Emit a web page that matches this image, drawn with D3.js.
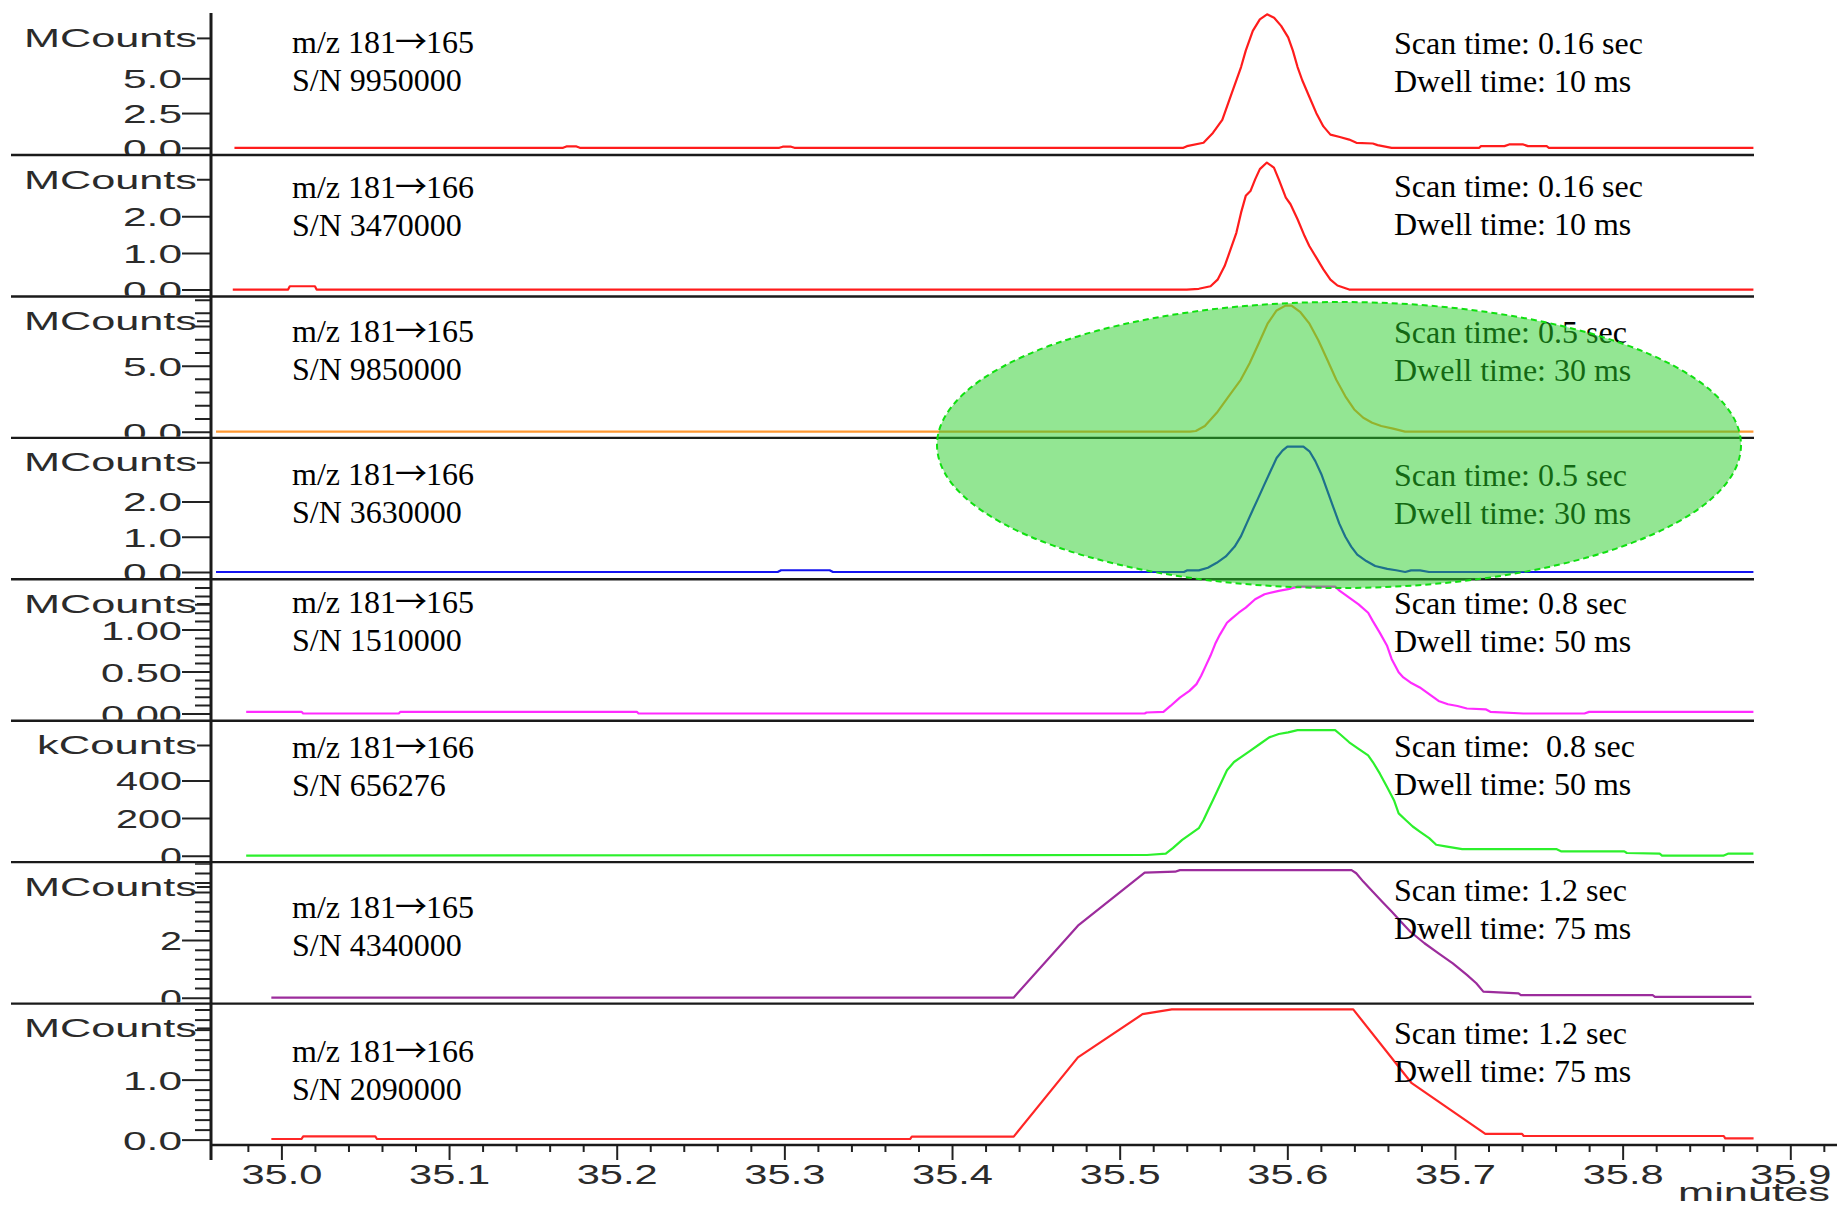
<!DOCTYPE html>
<html>
<head>
<meta charset="utf-8">
<script src="https://cdn.jsdelivr.net/npm/d3@7"></script>
<style>
  html, body { margin: 0; padding: 0; background: #fff; }
  svg { display: block; }
  .ann { font-family: "Liberation Serif", "Times New Roman", serif; font-size: 32px; fill: #000; white-space: pre; }
  .arrow { font-family: "Noto Sans CJK JP", "DejaVu Sans", sans-serif; }
  .axlbl { font-family: "Liberation Sans", Arial, sans-serif; fill: #2b2b2b; }
</style>
</head>
<body>
<svg id="chart" width="1837" height="1207"></svg>
<script>
// ---------------------------------------------------------------
// Chromatogram traces: [retention time (min), intensity]
// intensity in MCounts, except the 0.8 s m/z 181→166 trace (kCounts)
// ---------------------------------------------------------------
const trace165_016 = [
  [34.972, 0], [35.168, 0], [35.170, 0.1], [35.176, 0.1], [35.178, 0],
  [35.297, 0], [35.299, 0.08], [35.304, 0.08], [35.306, 0],
  [35.538, 0], [35.5401, 0.12], [35.5500, 0.36], [35.5556, 1.07], [35.5612, 2.01],
  [35.5668, 3.91], [35.5724, 5.81], [35.5752, 6.99], [35.5794, 8.41], [35.5836, 9.24],
  [35.5879, 9.6], [35.5921, 9.36], [35.5963, 8.77], [35.6005, 7.94], [35.6033, 6.99],
  [35.6061, 5.81], [35.6089, 4.86], [35.6131, 3.67], [35.6173, 2.49], [35.6215, 1.54],
  [35.6257, 0.95], [35.6313, 0.78], [35.6369, 0.59], [35.6412, 0.36], [35.6510, 0.31],
  [35.6538, 0.19], [35.6622, 0], [35.7145, 0], [35.7155, 0.12], [35.7295, 0.12],
  [35.7323, 0.24], [35.7407, 0.24], [35.7435, 0.12], [35.7547, 0.12], [35.7560, 0],
  [35.878, 0]
];
const trace166_016 = [
  [34.971, 0], [35.004, 0], [35.005, 0.09], [35.020, 0.09], [35.021, 0],
  [35.540, 0], [35.5472, 0.02], [35.5542, 0.09], [35.5584, 0.27], [35.5626, 0.64],
  [35.5654, 1.0], [35.5696, 1.55], [35.5724, 2.10], [35.5752, 2.56], [35.5780, 2.69],
  [35.5808, 3.01], [35.5836, 3.29], [35.5878, 3.47], [35.5920, 3.33], [35.5949, 3.01],
  [35.5991, 2.51], [35.6019, 2.33], [35.6061, 1.92], [35.6103, 1.46], [35.6131, 1.19],
  [35.6173, 0.87], [35.6215, 0.55], [35.6257, 0.27], [35.6299, 0.11], [35.6369, 0],
  [35.878, 0]
];
const trace165_05 = [
  [34.961, 0], [35.5420, 0], [35.5454, 0.05], [35.5508, 0.43], [35.5579, 1.43],
  [35.5650, 2.68], [35.5722, 3.93], [35.5775, 5.18], [35.5829, 6.68], [35.5882, 8.18],
  [35.5936, 9.18], [35.5989, 9.55], [35.6025, 9.55], [35.6078, 9.05], [35.6132, 8.18],
  [35.6185, 6.93], [35.6239, 5.43], [35.6292, 3.93], [35.6346, 2.68], [35.6399, 1.68],
  [35.6453, 1.05], [35.6506, 0.68], [35.6560, 0.43], [35.6631, 0.23], [35.6702, 0],
  [35.878, 0]
];
const trace166_05 = [
  [34.961, 0], [35.296, 0], [35.298, 0.05], [35.327, 0.05], [35.329, 0],
  [35.5383, 0], [35.5401, 0.045], [35.5472, 0.045], [35.5526, 0.12], [35.5579, 0.26],
  [35.5633, 0.44], [35.5686, 0.72], [35.5722, 1.0], [35.5757, 1.37], [35.5793, 1.75],
  [35.5829, 2.12], [35.5864, 2.49], [35.5900, 2.86], [35.5936, 3.23], [35.5971, 3.44],
  [35.6000, 3.55], [35.6096, 3.55], [35.6132, 3.42], [35.6167, 3.14], [35.6203, 2.77],
  [35.6239, 2.30], [35.6274, 1.84], [35.6310, 1.37], [35.6346, 1.0], [35.6381, 0.72],
  [35.6417, 0.49], [35.6471, 0.31], [35.6524, 0.17], [35.6596, 0.09], [35.6649, 0.05],
  [35.6703, 0], [35.6738, 0.045], [35.6792, 0.045], [35.6845, 0], [35.878, 0]
];
const trace165_08 = [
  [34.979, 0.02], [35.012, 0.02], [35.013, 0], [35.070, 0], [35.071, 0.02],
  [35.212, 0.02], [35.213, 0], [35.5149, 0], [35.5160, 0.012], [35.5261, 0.02],
  [35.5303, 0.09], [35.5359, 0.19], [35.5416, 0.27], [35.5458, 0.35], [35.5486, 0.45],
  [35.5514, 0.57], [35.5542, 0.69], [35.5570, 0.83], [35.5598, 0.94], [35.5640, 1.08],
  [35.5668, 1.13], [35.5710, 1.20], [35.5752, 1.26], [35.5808, 1.36], [35.5864, 1.42],
  [35.5949, 1.46], [35.6005, 1.48], [35.6061, 1.51], [35.6285, 1.51], [35.6313, 1.46],
  [35.6369, 1.38], [35.6425, 1.30], [35.6482, 1.20], [35.6510, 1.10], [35.6552, 0.96],
  [35.6594, 0.81], [35.6622, 0.65], [35.6664, 0.49], [35.6692, 0.43], [35.6734, 0.37],
  [35.6790, 0.31], [35.6846, 0.23], [35.6902, 0.15], [35.6958, 0.11], [35.7015, 0.09],
  [35.7071, 0.06], [35.7183, 0.05], [35.7211, 0.02], [35.7408, 0], [35.7772, 0],
  [35.7800, 0.02], [35.878, 0.02]
];
const trace166_08 = [
  [34.979, 0], [35.5163, 3.5], [35.5275, 10.5], [35.5317, 40], [35.5373, 84],
  [35.5430, 120], [35.5472, 146], [35.5500, 190], [35.5528, 243], [35.5556, 295],
  [35.5584, 348], [35.5612, 401], [35.5640, 454], [35.5682, 498], [35.5724, 524],
  [35.5780, 559], [35.5836, 594], [35.5892, 629], [35.5949, 647], [35.6005, 656],
  [35.6061, 668], [35.6285, 668], [35.6313, 647], [35.6369, 603], [35.6425, 568],
  [35.6482, 533], [35.6510, 498], [35.6552, 436], [35.6594, 366], [35.6636, 295],
  [35.6664, 225], [35.6706, 190], [35.6748, 155], [35.6790, 128], [35.6846, 93],
  [35.6888, 58], [35.6944, 49], [35.7043, 35], [35.7604, 35], [35.7632, 23],
  [35.8010, 23], [35.8025, 14], [35.8221, 10.5], [35.8235, 0], [35.8600, 0],
  [35.8628, 10.5], [35.878, 10.5]
];
const trace165_12 = [
  [34.994, 0], [35.4367, 0], [35.4751, 2.5], [35.5149, 4.34], [35.5331, 4.375],
  [35.5359, 4.43], [35.6383, 4.43], [35.6411, 4.32], [35.6453, 4.03], [35.6510, 3.68],
  [35.6566, 3.33], [35.6622, 2.99], [35.6678, 2.64], [35.6734, 2.29], [35.6818, 1.89],
  [35.6902, 1.54], [35.6987, 1.19], [35.7071, 0.79], [35.7127, 0.50], [35.7169, 0.21],
  [35.7379, 0.15], [35.7393, 0.09], [35.8179, 0.09], [35.8193, 0.03], [35.8768, 0.03]
];
const trace166_12 = [
  [34.994, 0.01], [35.012, 0.01], [35.013, 0.055], [35.056, 0.055], [35.057, 0.01],
  [35.375, 0.01], [35.376, 0.05], [35.4368, 0.05], [35.4751, 1.37], [35.5136, 2.09],
  [35.5311, 2.17], [35.6393, 2.17], [35.6742, 0.94], [35.7181, 0.095], [35.7400, 0.095],
  [35.7410, 0.06], [35.8603, 0.06], [35.8612, 0.02], [35.8781, 0.02]
];

// Panel texts: precursor, arrow, product
const precursors = ["181", "181", "181", "181", "181", "181", "181", "181"];
const products = ["165", "166", "165", "166", "165", "166", "165", "166"];
const snLabels = ["S/N 9950000", "S/N 3470000", "S/N 9850000", "S/N 3630000",
                  "S/N 1510000", "S/N 656276", "S/N 4340000", "S/N 2090000"];
const scanLabels = ["Scan time: 0.16 sec", "Scan time: 0.16 sec", "Scan time: 0.5 sec", "Scan time: 0.5 sec",
                    "Scan time: 0.8 sec", "Scan time:  0.8 sec", "Scan time: 1.2 sec", "Scan time: 1.2 sec"];
const dwellLabels = ["Dwell time: 10 ms", "Dwell time: 10 ms", "Dwell time: 30 ms", "Dwell time: 30 ms",
                     "Dwell time: 50 ms", "Dwell time: 50 ms", "Dwell time: 75 ms", "Dwell time: 75 ms"];
const unitLabels = ["MCounts", "MCounts", "MCounts", "MCounts", "MCounts", "kCounts", "MCounts", "MCounts"];

// Intensity axis ticks
const yTickValues = [[0, 2.5, 5.0], [0, 1, 2], [0, 5], [0, 1, 2], [0, 0.5, 1.0], [0, 200, 400], [0, 2], [0, 1]];
const yTickLabels = [["0.0", "2.5", "5.0"], ["0.0", "1.0", "2.0"], ["0.0", "5.0"], ["0.0", "1.0", "2.0"],
                     ["0.00", "0.50", "1.00"], ["0", "200", "400"], ["0", "2"], ["0.0", "1.0"]];
const yMinorSteps = [null, null, 1, null, 0.1, null, 1 / 3, 1 / 6];

// Time axis ticks
const xTickValues = [35.0, 35.1, 35.2, 35.3, 35.4, 35.5, 35.6, 35.7, 35.8, 35.9];
const xTickLabels = ["35.0", "35.1", "35.2", "35.3", "35.4", "35.5", "35.6", "35.7", "35.8", "35.9"];
const xMinorStep = 0.02;
const xAxisTitle = "minutes";

const traces = [trace165_016, trace166_016, trace165_05, trace166_05,
                trace165_08, trace166_08, trace165_12, trace166_12];

// ---------------------------------------------------------------
// Layout and styling
// ---------------------------------------------------------------
const traceColors = ["#ff1c1c", "#ff1c1c", "#ff9933", "#1414f0", "#ff2cff", "#2cf02c", "#9c2c9c", "#ff2626"];
// zero line offset above each panel's bottom rule, and pixels per intensity unit
const panelScales = [
  { zeroOffset: 7.2, pxPerUnit: 13.9 },
  { zeroOffset: 6.9, pxPerUnit: 36.6 },
  { zeroOffset: 6.2, pxPerUnit: 13.2 },
  { zeroOffset: 7.3, pxPerUnit: 35.3 },
  { zeroOffset: 7.2, pxPerUnit: 84 },
  { zeroOffset: 6.5, pxPerUnit: 0.188 },
  { zeroOffset: 5.9, pxPerUnit: 28.8 },
  { zeroOffset: 5.4, pxPerUnit: 60 }
];
const leftTextBase = [53.3, 198.3, 341.7, 485, 613.3, 758.3, 918.3, 1061.7];
const rightTextBase = [54, 197, 343, 486, 614, 757, 901, 1044];
const LINE_GAP = 38;

const AXIS_X = 211, RULE_LEFT = 11, RULE_RIGHT = 1754;
const SEP0 = 155, PANEL_H = 141.43;
const sepY = i => SEP0 + PANEL_H * i;
const MAJOR_LEN = 29, MINOR_LEN = 16, UNIT_LEN = 14;

// widths of the wide axis lettering
const glyphW = ch => (ch === "." ? 15 : 22);
const wordLen = { "MCounts": 173, "kCounts": 160, "minutes": 152 };
const labelLen = s => wordLen[s] || Array.from(s).reduce((a, c) => a + glyphW(c), 0);

const svg = d3.select("#chart");
const defs = svg.append("defs");

const xScale = d3.scaleLinear().domain([35.0, 35.9]).range([281.4, 1790.3]);

const rulesG = svg.append("g");
const axesG = svg.append("g");
const tracesG = svg.append("g");
const textG = svg.append("g");

traces.forEach((tr, i) => {
  const bottom = sepY(i);
  const top = bottom - PANEL_H;
  const ps = panelScales[i];
  const yTop = (PANEL_H - ps.zeroOffset) / ps.pxPerUnit;
  const y = d3.scaleLinear().domain([0, yTop]).range([bottom - ps.zeroOffset, top]);

  // clip for the axis lettering of this panel
  const clipId = "clip" + i;
  const clipTop = i === 0 ? 0 : top + 1;
  const clipBottom = i === 7 ? bottom + 20 : bottom - 1;
  defs.append("clipPath").attr("id", clipId)
    .append("rect").attr("x", 0).attr("width", AXIS_X + 4)
    .attr("y", clipTop)
    .attr("height", clipBottom - clipTop);

  const g = axesG.append("g").attr("clip-path", `url(#${clipId})`);

  // minor ticks
  if (yMinorSteps[i]) {
    const step = yMinorSteps[i];
    const minors = d3.range(step, yTop, step)
      .filter(v => !yTickValues[i].some(m => Math.abs(m - v) < 1e-6));
    const minorAxis = d3.axisLeft(y).tickValues(minors).tickSize(MINOR_LEN).tickFormat("");
    const mg = g.append("g").attr("transform", `translate(${AXIS_X},0)`).call(minorAxis);
    mg.select(".domain").remove();
    mg.selectAll("line").attr("stroke", "#222").attr("stroke-width", 2);
  }

  // major ticks with labels
  const majorAxis = d3.axisLeft(y)
    .tickValues(yTickValues[i])
    .tickSize(MAJOR_LEN)
    .tickPadding(0)
    .tickFormat((d, k) => yTickLabels[i][k]);
  const ag = g.append("g").attr("transform", `translate(${AXIS_X},0)`).call(majorAxis);
  ag.select(".domain").remove();
  ag.selectAll("line").attr("stroke", "#222").attr("stroke-width", 2);
  ag.attr("font-family", null).attr("font-size", null);
  ag.selectAll("text")
    .attr("class", "axlbl")
    .style("font-size", "26.5px")
    .attr("fill", "#2b2b2b")
    .attr("text-anchor", "start")
    .attr("x", function () { return -MAJOR_LEN - labelLen(this.textContent); })
    .attr("dy", "0.36em")
    .attr("textLength", function () { return labelLen(this.textContent); })
    .attr("lengthAdjust", "spacingAndGlyphs");

  // unit label near the top of the axis
  const uy = bottom - 116.6;
  g.append("line").attr("x1", AXIS_X - UNIT_LEN).attr("x2", AXIS_X)
    .attr("y1", uy).attr("y2", uy).attr("stroke", "#222").attr("stroke-width", 2);
  const uLen = labelLen(unitLabels[i]);
  g.append("text").attr("class", "axlbl")
    .style("font-size", "25px")
    .attr("x", AXIS_X - UNIT_LEN - uLen).attr("y", uy + 8.8)
    .attr("textLength", uLen).attr("lengthAdjust", "spacingAndGlyphs")
    .text(unitLabels[i]);

  // panel rule
  if (i < 7) {
    rulesG.append("line")
      .attr("x1", RULE_LEFT).attr("x2", RULE_RIGHT)
      .attr("y1", bottom).attr("y2", bottom)
      .attr("stroke", "#1a1a1a").attr("stroke-width", 2.4);
  }

  // trace
  const line = d3.line().x(d => xScale(d[0])).y(d => y(d[1]));
  tracesG.append("path")
    .datum(tr)
    .attr("d", line)
    .attr("fill", "none")
    .attr("stroke", traceColors[i])
    .attr("stroke-width", 2.2)
    .attr("stroke-linejoin", "round");

  // annotations
  const t1 = textG.append("text").attr("class", "ann").attr("x", 292).attr("y", leftTextBase[i]);
  t1.append("tspan").text("m/z " + precursors[i]);
  t1.append("tspan").attr("class", "arrow").attr("dx", -1).text("→");
  t1.append("tspan").attr("dx", -1).text(products[i]);
  textG.append("text").attr("class", "ann").attr("x", 292).attr("y", leftTextBase[i] + LINE_GAP).text(snLabels[i]);
  textG.append("text").attr("class", "ann").attr("x", 1394).attr("y", rightTextBase[i]).text(scanLabels[i]);
  textG.append("text").attr("class", "ann").attr("x", 1394).attr("y", rightTextBase[i] + LINE_GAP).text(dwellLabels[i]);
});

// intensity axis spine
axesG.append("line")
  .attr("x1", AXIS_X).attr("x2", AXIS_X)
  .attr("y1", 13).attr("y2", 1160)
  .attr("stroke", "#1a1a1a").attr("stroke-width", 3);

// time axis
const AXIS_Y = sepY(7);
const xg = axesG.append("g").attr("transform", `translate(0,${AXIS_Y})`);
const xMinor = d3.range(34.98, 35.93, xMinorStep)
  .filter(v => !xTickValues.some(m => Math.abs(m - v) < 1e-6));
const xMinorAxis = d3.axisBottom(xScale).tickValues(xMinor).tickSize(7).tickFormat("");
const xmg = xg.append("g").call(xMinorAxis);
xmg.select(".domain").remove();
xmg.selectAll("line").attr("stroke", "#222").attr("stroke-width", 2);

const xMajorAxis = d3.axisBottom(xScale)
  .tickValues(xTickValues)
  .tickSize(15)
  .tickPadding(4)
  .tickFormat((d, k) => xTickLabels[k]);
const xag = xg.append("g").call(xMajorAxis);
xag.select(".domain").remove();
xag.attr("font-family", null).attr("font-size", null);
xag.selectAll("line").attr("stroke", "#222").attr("stroke-width", 2);
xag.selectAll("text")
  .attr("class", "axlbl")
  .style("font-size", "28px")
  .attr("fill", "#2b2b2b")
  .attr("text-anchor", "start")
  .attr("x", function () { return -labelLen(this.textContent) / 2; })
  .attr("textLength", function () { return labelLen(this.textContent); })
  .attr("lengthAdjust", "spacingAndGlyphs");

xg.append("line").attr("x1", AXIS_X).attr("x2", 1837).attr("y1", 0).attr("y2", 0)
  .attr("stroke", "#1a1a1a").attr("stroke-width", 2.4);

const mLen = labelLen(xAxisTitle);
axesG.append("text").attr("class", "axlbl")
  .style("font-size", "26px")
  .attr("x", 1830 - mLen).attr("y", 1201)
  .attr("textLength", mLen).attr("lengthAdjust", "spacingAndGlyphs")
  .text(xAxisTitle);

// highlight around the 0.5 s scan panels
svg.append("ellipse")
  .attr("cx", 1339).attr("cy", 445)
  .attr("rx", 402).attr("ry", 143)
  .attr("fill", "rgba(40, 205, 40, 0.5)")
  .attr("stroke", "#10e010")
  .attr("stroke-width", 2)
  .attr("stroke-dasharray", "6 4");
</script>
</body>
</html>
